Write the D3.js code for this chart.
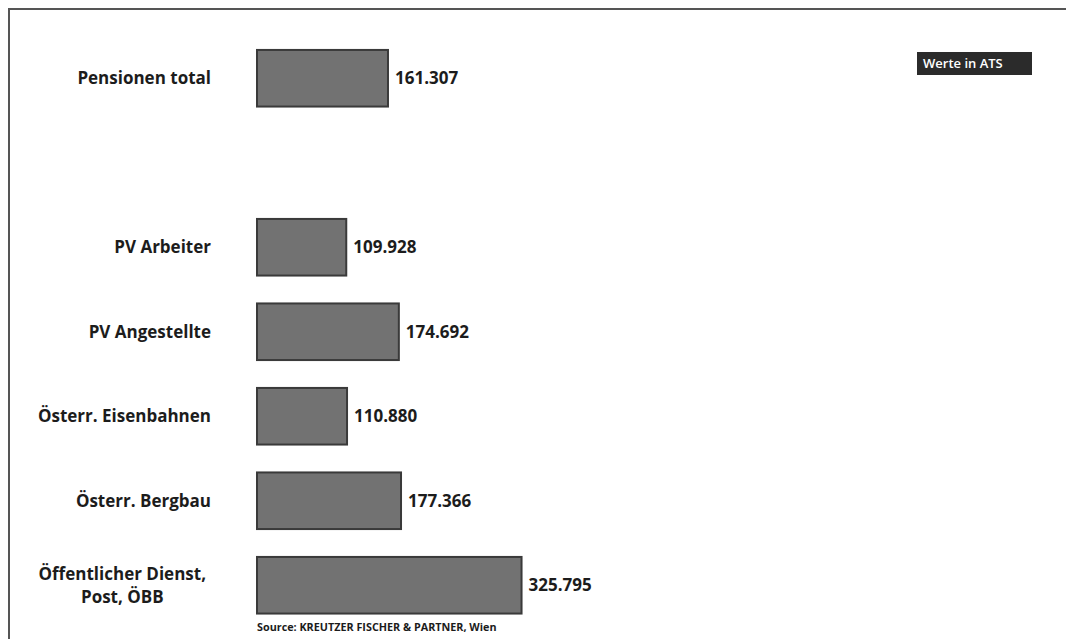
<!DOCTYPE html>
<html>
<head>
<meta charset="utf-8">
<script src="https://cdn.jsdelivr.net/npm/d3@7"></script>
<style>
  body { margin: 0; background: #fff; }
  svg { display: block; font-family: "Open Sans", "DejaVu Sans", sans-serif; }
</style>
</head>
<body>
<div id="chart"></div>
<script>
// categories (an empty slot keeps the gap after the total)
const categories = ["Pensionen total", "", "PV Arbeiter", "PV Angestellte", "Österr. Eisenbahnen", "Österr. Bergbau", "Öffentlicher Dienst,\nPost, ÖBB"];
const values = [161307, null, 109928, 174692, 110880, 177366, 325795];
const valueLabels = ["161.307", "", "109.928", "174.692", "110.880", "177.366", "325.795"];
const unitNote = "Werte in ATS";
const sourceNote = "Source: KREUTZER FISCHER & PARTNER, Wien";

const width = 1066, height = 639;
const margin = { top: 36, left: 257 };

const svg = d3.select("#chart").append("svg")
    .attr("width", width)
    .attr("height", height);

// frame (top and left edges only are visible)
svg.append("path")
    .attr("d", `M9,${height} L9,9 L${width},9`)
    .attr("fill", "none")
    .attr("stroke", "#555")
    .attr("stroke-width", 2);

const x = d3.scaleLinear()
    .domain([0, 100000])
    .range([0, 81.2]);

const y = d3.scaleBand()
    .domain(d3.range(categories.length))
    .range([margin.top, margin.top + 84.5 * categories.length])
    .paddingInner(0.33)
    .paddingOuter(0.165);

const rows = categories.map((c, i) => ({ cat: c, value: values[i], label: valueLabels[i], i }))
    .filter(d => d.value !== null);

const g = svg.append("g").attr("transform", `translate(${margin.left},0)`);

// bars
g.selectAll(".bar")
    .data(rows)
    .enter()
    .append("rect")
    .attr("class", "bar")
    .attr("x", 0)
    .attr("y", d => y(d.i))
    .attr("width", d => x(d.value))
    .attr("height", y.bandwidth())
    .attr("fill", "#727272")
    .attr("stroke", "#3a3a3a")
    .attr("stroke-width", 2);

// value labels
g.selectAll(".val")
    .data(rows)
    .enter()
    .append("text")
    .attr("class", "val")
    .attr("x", d => x(d.value) + 7)
    .attr("y", d => y(d.i) + y.bandwidth() / 2)
    .attr("dy", "0.35em")
    .style("font-size", "17px")
    .style("font-weight", 700)
    .attr("fill", "#1c1c1c")
    .text(d => d.label);

// category labels: block right-aligned, lines centred within the block
const labelRight = 211;
rows.forEach(d => {
    const lines = d.cat.split("\n");
    const t = svg.append("text")
        .style("font-size", "17px")
        .style("font-weight", 700)
        .attr("fill", "#1c1c1c")
        .attr("text-anchor", "middle");
    const cy = y(d.i) + y.bandwidth() / 2;
    const lh = 23;
    lines.forEach((ln, k) => {
        t.append("tspan")
            .attr("y", cy + (k - (lines.length - 1) / 2) * lh)
            .attr("dy", "0.35em")
            .text(ln);
    });
    let maxW = 0;
    t.selectAll("tspan").each(function () { maxW = Math.max(maxW, this.getComputedTextLength()); });
    t.selectAll("tspan").attr("x", (lines.length > 1 ? labelRight - 5 : labelRight) - maxW / 2);
});

// unit box
const box = svg.append("g").attr("transform", "translate(917,52)");
box.append("rect")
    .attr("width", 115)
    .attr("height", 23)
    .attr("fill", "#2b2b2b");
box.append("text")
    .attr("x", 6)
    .attr("y", 11.5)
    .attr("dy", "0.35em")
    .attr("fill", "#fff")
    .style("font-size", "13px")
    .style("font-weight", 600)
    .text(unitNote);

// source
svg.append("text")
    .attr("x", margin.left)
    .attr("y", 631)
    .attr("fill", "#1c1c1c")
    .style("font-size", "10.8px")
    .style("font-weight", 700)
    .text(sourceNote);
</script>
</body>
</html>
